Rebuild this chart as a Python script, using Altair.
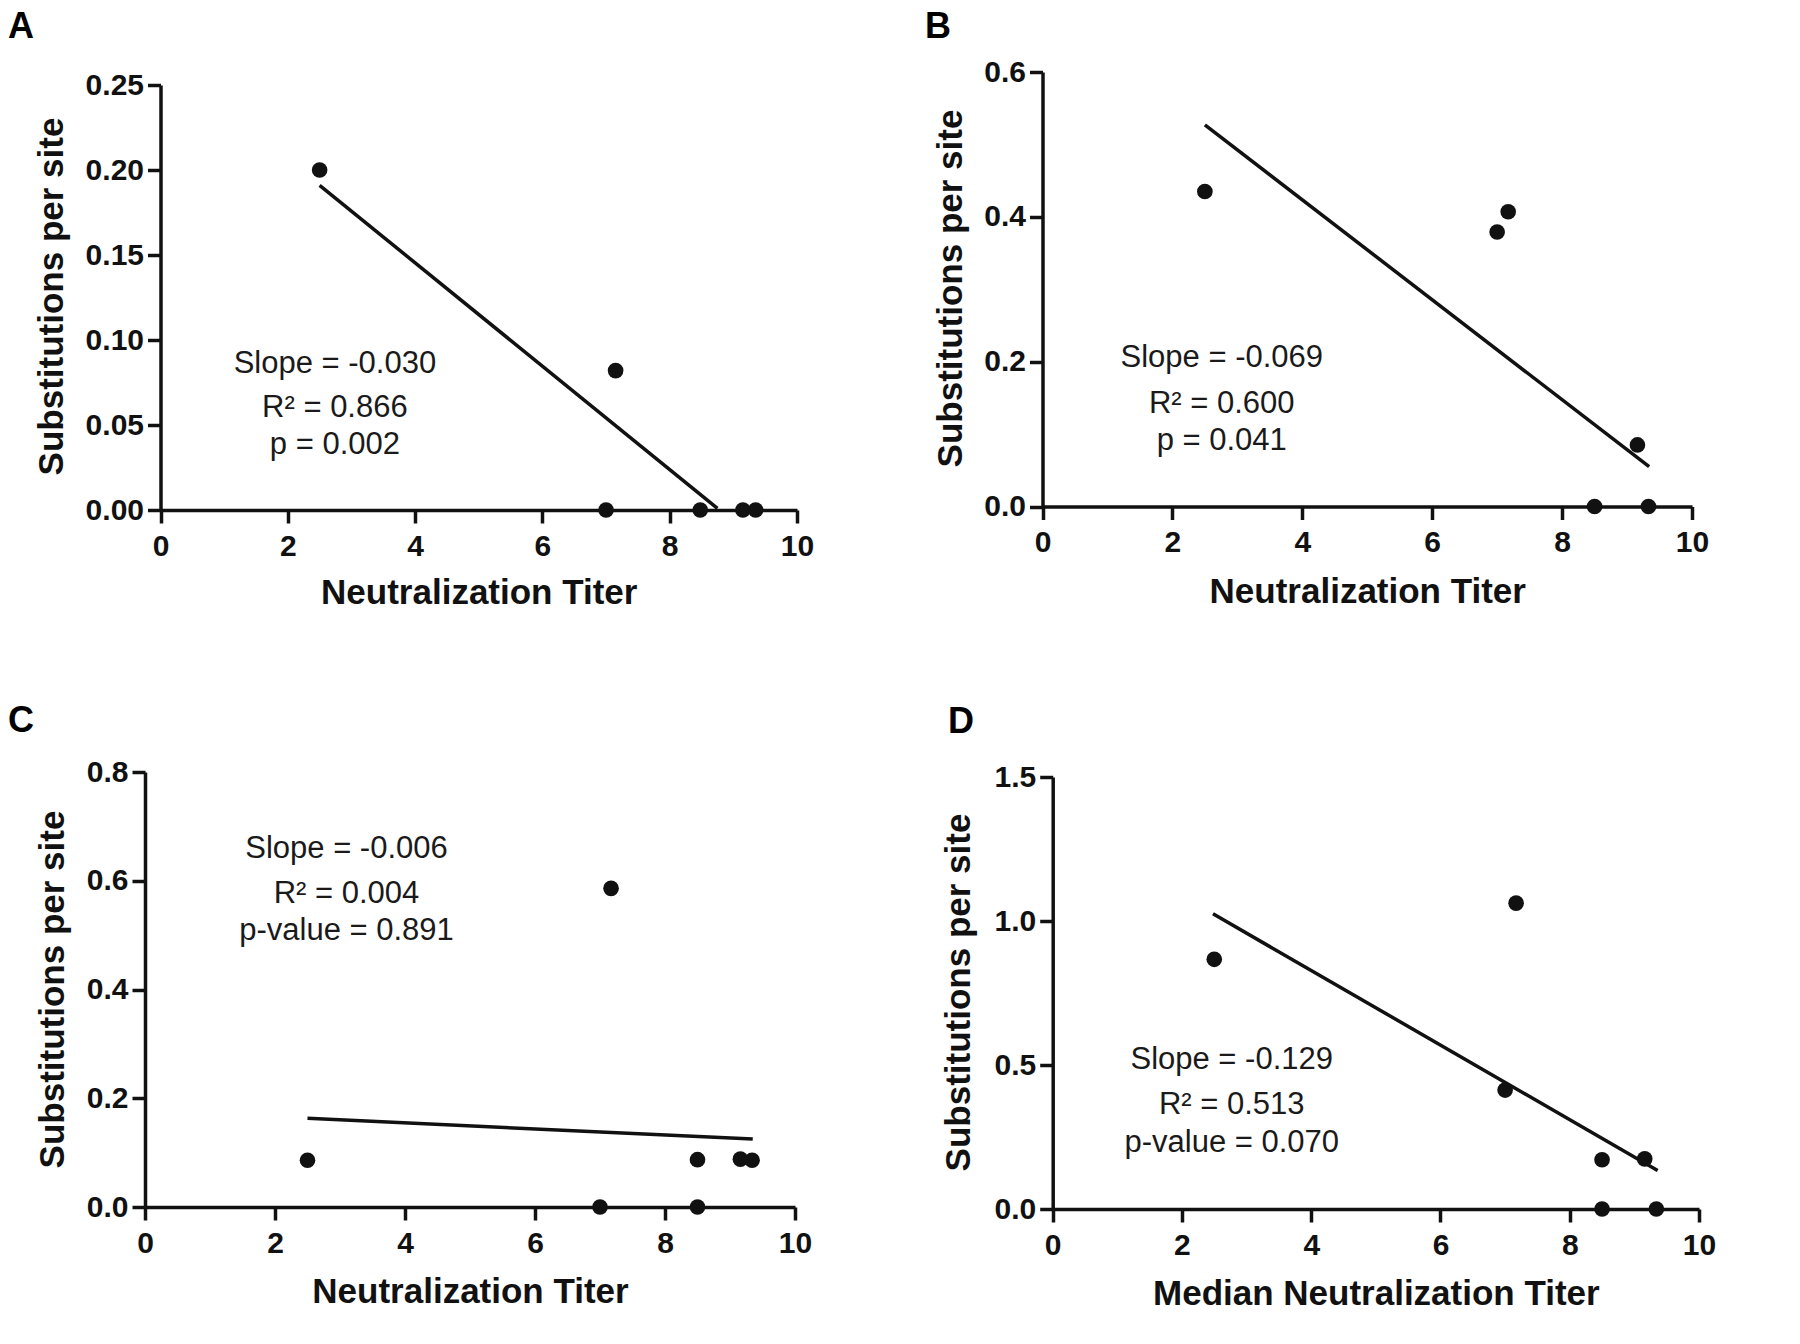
import altair as alt
import pandas as pd

FONT = "Liberation Sans"
INK = "#111111"
CELL_W, CELL_H = 892, 664
X_TICKS = [0, 2, 4, 6, 8, 10]

# ---------------- data ----------------
titer_A = [2.5, 7.15, 7.0, 8.48, 9.15, 9.35]
subs_A = [0.200, 0.082, 0.0, 0.0, 0.0, 0.0]
fitx_A = [2.5, 8.75]
fity_A = [0.191, 0.001]
ann_A = ["Slope = -0.030", "R² = 0.866", "p = 0.002"]
annx_A = [2.74, 2.74, 2.74]
anny_A = [0.0859, 0.0600, 0.0382]
yticks_A = [0.0, 0.05, 0.10, 0.15, 0.20, 0.25]

titer_B = [2.5, 7.0, 7.17, 9.16, 8.5, 9.33]
subs_B = [0.435, 0.379, 0.407, 0.085, 0.0, 0.0]
fitx_B = [2.5, 9.34]
fity_B = [0.527, 0.055]
ann_B = ["Slope = -0.069", "R² = 0.600", "p = 0.041"]
annx_B = [2.76, 2.76, 2.76]
anny_B = [0.205, 0.1415, 0.0904]
yticks_B = [0.0, 0.2, 0.4, 0.6]

titer_C = [2.5, 7.17, 7.0, 8.5, 8.5, 9.16, 9.34]
subs_C = [0.086, 0.586, 0.0, 0.087, 0.0, 0.088, 0.086]
fitx_C = [2.5, 9.35]
fity_C = [0.163, 0.125]
ann_C = ["Slope = -0.006", "R² = 0.004", "p-value = 0.891"]
annx_C = [3.10, 3.10, 3.10]
anny_C = [0.658, 0.5756, 0.5076]
yticks_C = [0.0, 0.2, 0.4, 0.6, 0.8]

titer_D = [2.5, 7.17, 7.0, 8.5, 9.16, 8.5, 9.34]
subs_D = [0.867, 1.062, 0.413, 0.171, 0.174, 0.0, 0.0]
fitx_D = [2.48, 9.36]
fity_D = [1.025, 0.134]
ann_D = ["Slope = -0.129", "R² = 0.513", "p-value = 0.070"]
annx_D = [2.77, 2.77, 2.77]
anny_D = [0.517, 0.361, 0.230]
yticks_D = [0.0, 0.5, 1.0, 1.5]


def panel(letter, tx, sy, fx, fy, ax, ay, at, yticks, yfmt, xtitle,
          xr, yr, ytitle_x, ytitle_y, xtitle_y, label_xy):
    pts = pd.DataFrame({"x": tx, "y": sy})
    fit = pd.DataFrame({"x": fx, "y": fy})
    ann = pd.DataFrame({"x": ax, "y": ay, "t": at})
    lab = pd.DataFrame({"t": [letter]})

    xscale = alt.Scale(domain=[0, 10], range=xr, nice=False, zero=False)
    yscale = alt.Scale(domain=[0, yticks[-1]], range=yr, nice=False, zero=False)

    xaxis = alt.Axis(
        values=X_TICKS, format="d", title=xtitle, offset=yr[0] - CELL_H,
        grid=False, domainWidth=3.5, domainColor=INK, tickWidth=3.5, tickColor=INK,
        tickSize=13, labelPadding=8, labelFont=FONT, labelFontWeight="bold",
        labelFontSize=30, labelColor=INK, labelFlush=False, labelOverlap=False,
        titleFont=FONT, titleFontSize=35, titleFontWeight="bold", titleColor=INK,
        titleX=(xr[0] + xr[1]) / 2, titleY=xtitle_y, titleBaseline="middle",
        titleAlign="center",
    )
    yaxis = alt.Axis(
        values=yticks, format=yfmt, title="Substitutions per site", offset=-xr[0],
        grid=False, domainWidth=3.5, domainColor=INK, tickWidth=3.5, tickColor=INK,
        tickSize=13, labelPadding=4, labelFont=FONT, labelFontWeight="bold",
        labelFontSize=30, labelColor=INK, labelFlush=False, labelOverlap=False,
        titleFont=FONT, titleFontSize=35, titleFontWeight="bold", titleColor=INK,
        titleX=ytitle_x, titleY=ytitle_y, titleBaseline="middle",
        titleAlign="center", titleAngle=270,
    )
    X = alt.X("x:Q", scale=xscale, axis=xaxis)
    Y = alt.Y("y:Q", scale=yscale, axis=yaxis)

    line = alt.Chart(fit).mark_line(color=INK, strokeWidth=3.5).encode(x=X, y=Y)
    dots = alt.Chart(pts).mark_circle(size=245, color=INK, opacity=1).encode(x=X, y=Y)
    text = alt.Chart(ann).mark_text(
        font=FONT, fontSize=31, color="#1a1a1a", align="center", baseline="middle"
    ).encode(x=X, y=Y, text="t:N")
    label = alt.Chart(lab).mark_text(
        font=FONT, fontSize=36, fontWeight="bold", color="#000000",
        align="left", baseline="alphabetic"
    ).encode(x=alt.value(label_xy[0]), y=alt.value(label_xy[1]), text="t:N")

    return alt.layer(line, dots, text, label).properties(width=CELL_W, height=CELL_H)


pA = panel("A", titer_A, subs_A, fitx_A, fity_A, annx_A, anny_A, ann_A,
           yticks_A, ".2f", "Neutralization Titer",
           [152.5, 789], [502, 77], -109.5, 288, 82.5, (0, 30))
pB = panel("B", titer_B, subs_B, fitx_B, fity_B, annx_B, anny_B, ann_B,
           yticks_B, ".1f", "Neutralization Titer",
           [142.5, 792], [498.5, 64], -92, 280, 84.5, (25, 30))
pC = panel("C", titer_C, subs_C, fitx_C, fity_C, annx_C, anny_C, ann_C,
           yticks_C, ".1f", "Neutralization Titer",
           [137, 787], [535, 100], -93, 317, 84.5, (0, 60))
pD = panel("D", titer_D, subs_D, fitx_D, fity_D, annx_D, anny_D, ann_D,
           yticks_D, ".1f", "Median Neutralization Titer",
           [152.7, 799], [537, 105], -94, 320, 84.5, (48, 61))

chart = alt.concat(pA, pB, pC, pD, columns=2, spacing=0, bounds="flush").properties(
    padding=0, background="white"
).configure_view(stroke=None, fill="white")

chart.save("out.html", embed_options={"renderer": "svg", "actions": False})
